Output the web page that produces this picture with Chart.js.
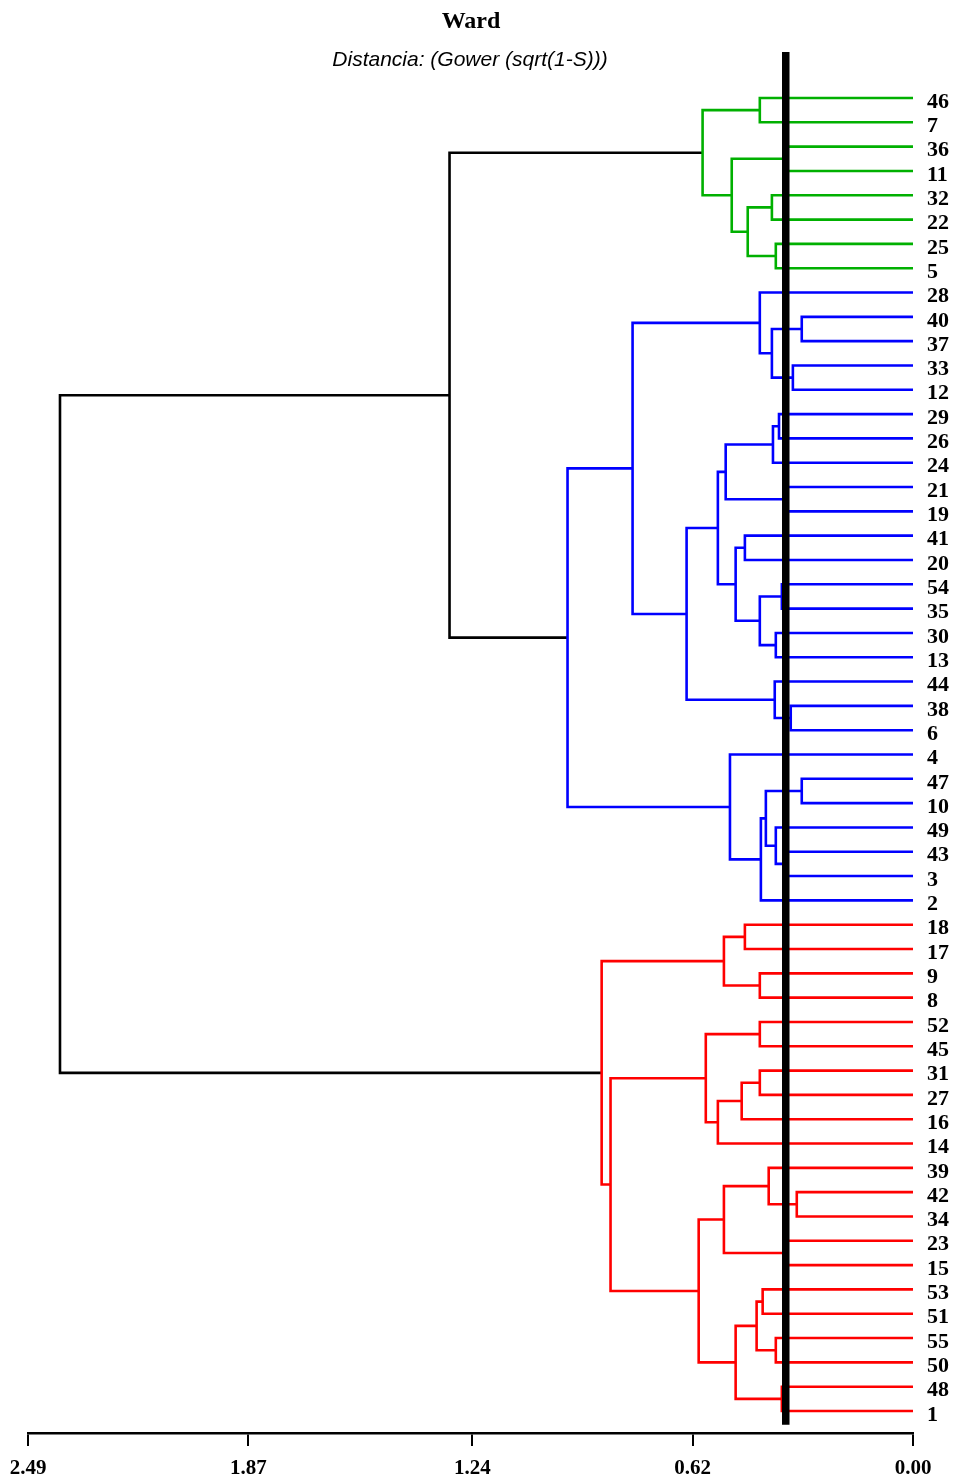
<!DOCTYPE html>
<html>
<head>
<meta charset="utf-8">
<script src="https://cdn.jsdelivr.net/npm/chart.js@4/dist/chart.umd.min.js"></script>
<style>
  body { margin: 0; background: #fff; }
  #wrap { position: relative; width: 961px; height: 1484px; }
  .title { position: absolute; left: 471px; top: 8px; transform: translateX(-50%);
           font: bold 24px 'Liberation Serif', serif; line-height: 24px; color: #000; white-space: nowrap; }
  .subtitle { position: absolute; left: 470px; top: 48px; transform: translateX(-50%);
              font: italic 21px 'Liberation Sans', Arial, sans-serif; line-height: 22px; color: #000; white-space: nowrap; }
</style>
</head>
<body>
<div id="wrap">
  <canvas id="chart" width="961" height="1484"></canvas>
  <div class="title">Ward</div>
  <div class="subtitle">Distancia: (Gower (sqrt(1-S)))</div>
</div>
<script>
// ── Data ─────────────────────────────────────
// leaves, top to bottom
const LEAVES = ['46','7','36','11','32','22','25','5','28','40','37','33','12','29','26','24','21','19',
  '41','20','54','35','30','13','44','38','6','4','47','10','49','43','3','2','18','17','9','8',
  '52','45','31','27','16','14','39','42','34','23','15','53','51','55','50','48','1'];

// merges: '#n' refers to merge n, anything else is a leaf label
const MERGE_A = ['46','36','32','25','#2','#1','#0',
  '40','33','#7','28','29','#11','21','#12','41','54','30','#16','#15','#14','38','44','#20','#10',
  '47','43','49','#25','#28','4','#24',
  '18','9','#32','52','31','#36','#37','#35','42','39','23','#41','53','55','#44','48','#46','#43','#39','#34',
  '#6','#52'];
const MERGE_B = ['7','11','22','5','#3','#4','#5',
  '37','12','#8','#9','26','24','19','#13','20','35','13','#17','#18','#19','6','#21','#22','#23',
  '10','3','#26','#27','2','#29','#30',
  '17','8','#33','45','27','16','14','#38','34','#40','15','#42','51','50','#45','1','#47','#48','#49','#50',
  '#31','#51'];
const MERGE_H = [0.431, 0.358, 0.397, 0.386, 0.465, 0.510, 0.592,
  0.313, 0.338, 0.397, 0.431, 0.377, 0.394, 0.358, 0.527, 0.473, 0.369, 0.386, 0.431, 0.499, 0.549, 0.344, 0.389, 0.637, 0.789,
  0.313, 0.358, 0.386, 0.414, 0.428, 0.515, 0.972,
  0.473, 0.431, 0.532, 0.431, 0.431, 0.482, 0.549, 0.583, 0.327, 0.406, 0.358, 0.532, 0.423, 0.386, 0.440, 0.369, 0.499, 0.603, 0.851, 0.876,
  1.304, 2.40];

const CLUSTER_ROOTS = ['#6', '#31', '#51'];   // green, blue, red groups
const CUT_HEIGHT = 0.358;
const X_TICKS = [0, 0.62, 1.24, 1.87, 2.49];

// ── Styles ───────────────────────────────────
const CLUSTER_COLORS = ['#00b000', '#0000ff', '#ff0000'];
const TOP_COLOR = '#000000';
const Y_MIN = -1.892, Y_MAX = 54.905, CUT_TOP = -1.892, CUT_BOTTOM = 54.57;

// ── Build geometry from the merge table ──────
const nodeY = id => id.startsWith('#') ? mergeY[+id.slice(1)] : LEAVES.indexOf(id);
const nodeH = id => id.startsWith('#') ? MERGE_H[+id.slice(1)] : 0;
const mergeY = [];
MERGE_H.forEach((h, i) => { mergeY[i] = (nodeY(MERGE_A[i]) + nodeY(MERGE_B[i])) / 2; });

function descendants(id, out = new Set()) {
  out.add(id);
  if (id.startsWith('#')) {
    const i = +id.slice(1);
    descendants(MERGE_A[i], out);
    descendants(MERGE_B[i], out);
  }
  return out;
}
const clusterSets = CLUSTER_ROOTS.map(r => descendants(r));
function colorOf(i) {
  const id = '#' + i;
  const k = clusterSets.findIndex(s => s.has(id));
  return k >= 0 ? CLUSTER_COLORS[k] : TOP_COLOR;
}

const datasets = [{
  data: [{ x: CUT_HEIGHT, y: CUT_TOP }, { x: CUT_HEIGHT, y: CUT_BOTTOM }],
  borderColor: '#000', borderWidth: 7.5,
}];
MERGE_H.forEach((h, i) => {
  const a = MERGE_A[i], b = MERGE_B[i];
  datasets.push({
    data: [
      { x: nodeH(a), y: nodeY(a) },
      { x: h, y: nodeY(a) },
      { x: h, y: nodeY(b) },
      { x: nodeH(b), y: nodeY(b) },
    ],
    borderColor: colorOf(i),
    borderWidth: 2.6,
  });
});
datasets.forEach(d => Object.assign(d, {
  showLine: true, pointRadius: 0, tension: 0, fill: false,
  borderCapStyle: 'butt', borderJoinStyle: 'miter',
}));

// ── Chart ────────────────────────────────────
new Chart(document.getElementById('chart'), {
  type: 'scatter',
  data: { datasets },
  options: {
    responsive: false,
    animation: false,
    devicePixelRatio: 1,
    layout: { padding: { top: 52, left: 28, right: 0, bottom: 0 } },
    plugins: { legend: { display: false }, tooltip: { enabled: false }, title: { display: false } },
    scales: {
      x: {
        type: 'linear', position: 'bottom', reverse: true, min: 0, max: 2.49,
        afterBuildTicks: s => { s.ticks = X_TICKS.map(v => ({ value: v })); },
        afterFit: s => { s.height = 51; },
        grid: { drawOnChartArea: false, drawTicks: true, tickLength: 13, color: '#000', tickColor: '#000', lineWidth: 2 },
        border: { display: true, color: '#000', width: 2.5 },
        ticks: {
          padding: 10, color: '#000', maxRotation: 0, autoSkip: false,
          font: { family: "'Liberation Serif', serif", weight: 'bold', size: 21 },
          callback: v => v.toFixed(2),
        },
      },
      y: {
        type: 'linear', position: 'right', reverse: true, min: Y_MIN, max: Y_MAX,
        afterBuildTicks: s => { s.ticks = LEAVES.map((_, i) => ({ value: i })); },
        afterFit: s => { s.width = 48; },
        grid: { display: false },
        border: { display: false },
        ticks: {
          padding: 6, labelOffset: 4, color: '#000', autoSkip: false,
          font: { family: "'Liberation Serif', serif", weight: 'bold', size: 22 },
          callback: v => LEAVES[v],
        },
      },
    },
  },
});
</script>
</body>
</html>
